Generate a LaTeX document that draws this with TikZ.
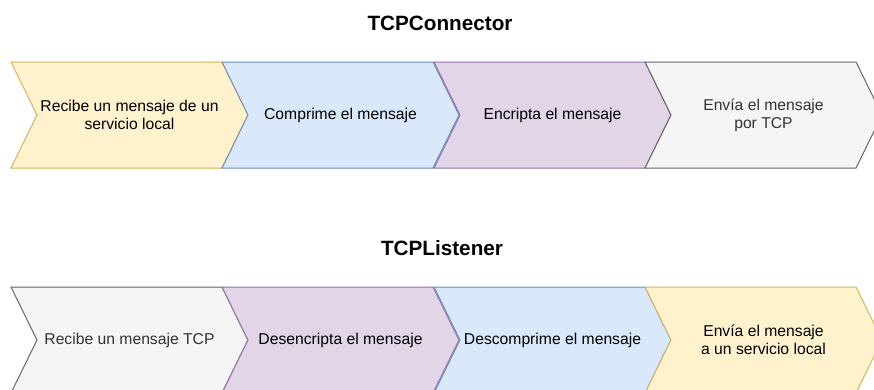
\documentclass[tikz,border=0pt]{standalone}
\usepackage{fontspec}
\setmainfont{Liberation Sans}
\definecolor{yfill}{HTML}{FFF2CC}\definecolor{ydraw}{HTML}{D6B656}
\definecolor{bfill}{HTML}{DAE8FC}\definecolor{bdraw}{HTML}{6C8EBF}
\definecolor{pfill}{HTML}{E1D5E7}\definecolor{pdraw}{HTML}{9673A6}
\definecolor{gfill}{HTML}{F5F5F5}\definecolor{gdraw}{HTML}{666666}
\definecolor{gtext}{HTML}{333333}
\newcommand\chevstep[5]{%
  \path[#4] (#2,#3) -- ++(211,0) -- ++(26,53) -- ++(-26,53) -- ++(-211,0) -- ++(26,-53) -- cycle;
  \node[steptext,#4text] (#1) at (#2+118.5,#3+53) {#5};
}
\begin{document}
\begin{tikzpicture}[x=1pt,y=-1pt,
  yellowbox/.style={fill=yfill,draw=ydraw,line width=1pt,line join=miter},
  bluebox/.style={fill=bfill,draw=bdraw,line width=1pt,line join=miter},
  purplebox/.style={fill=pfill,draw=pdraw,line width=1pt,line join=miter},
  graybox/.style={fill=gfill,draw=gdraw,line width=1pt,line join=miter},
  yellowboxtext/.style={text=black},
  blueboxtext/.style={text=black},
  purpleboxtext/.style={text=black},
  grayboxtext/.style={text=gtext},
  steptext/.style={align=center,inner sep=0pt,font=\fontsize{15.7}{18}\selectfont},
  title/.style={anchor=base,inner sep=0pt,font=\fontsize{20.7}{24}\selectfont\bfseries}]
\useasboundingbox (0,0) rectangle (874,389);
\fill[white] (0,0) rectangle (874,389);
\clip (0,0) rectangle (874,389);
\node[title] (t1) at (440,30) {TCPConnector};
\chevstep{c1}{11}{62}{yellowbox}{Recibe un mensaje de un\\servicio local}
\chevstep{c2}{222}{62}{bluebox}{Comprime el mensaje}
\chevstep{c3}{434}{62}{purplebox}{Encripta el mensaje}
\chevstep{c4}{645}{62}{graybox}{Envía el mensaje\\por TCP}
\node[title] (t2) at (442,255) {TCPListener};
\chevstep{l1}{11}{287}{graybox}{Recibe un mensaje TCP}
\chevstep{l2}{222}{287}{purplebox}{Desencripta el mensaje}
\chevstep{l3}{434}{287}{bluebox}{Descomprime el mensaje}
\chevstep{l4}{645}{287}{yellowbox}{Envía el mensaje\\a un servicio local}
\end{tikzpicture}
\end{document}
